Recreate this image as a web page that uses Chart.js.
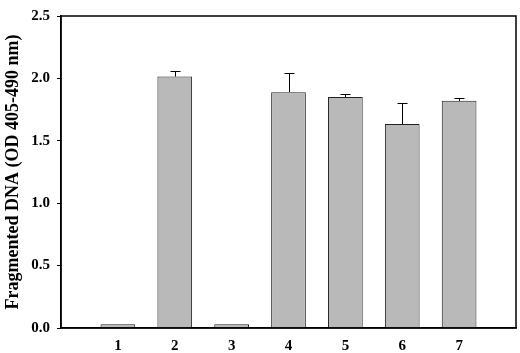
<!DOCTYPE html>
<html>
<head>
<meta charset="utf-8">
<script src="https://cdn.jsdelivr.net/npm/chart.js@4"></script>
<style>
    html, body { margin: 0; padding: 0; background: #fff; }
    #wrap { width: 520px; height: 353px; }
</style>
</head>
<body>
<div id="wrap"><canvas id="dnaChart" width="520" height="353"></canvas></div>
<script>
const positions = [1, 2, 3, 4, 5, 6, 7];
const tickLabels = ["1", "2", "3", "4", "5", "6", "7"];
const values = [0.03, 2.015, 0.03, 1.89, 1.85, 1.635, 1.82];
const errors = [0, 0.045, 0, 0.15, 0.025, 0.17, 0.025];
const yTicks = [0.0, 0.5, 1.0, 1.5, 2.0, 2.5];

const serif = "'Liberation Serif', 'Times New Roman', serif";

// frame round the plot + upward error bars
const extras = {
    id: 'extras',
    afterDatasetsDraw(chart) {
        const c = chart.ctx;
        const y = chart.scales.y;
        const meta = chart.getDatasetMeta(0);
        c.save();
        c.strokeStyle = '#000';
        c.lineWidth = 1;
        meta.data.forEach((bar, i) => {
            if (!errors[i]) return;
            const top = y.getPixelForValue(values[i] + errors[i]);
            const x = Math.round(bar.x) + 0.5;
            c.beginPath();
            c.moveTo(x, bar.y);
            c.lineTo(x, Math.round(top) + 0.5);
            c.moveTo(x - 5, Math.round(top) + 0.5);
            c.lineTo(x + 5, Math.round(top) + 0.5);
            c.stroke();
        });
        const a = chart.chartArea;
        c.lineWidth = 1.5;
        c.strokeRect(a.left, a.top, a.right - a.left, a.bottom - a.top);
        c.restore();
    }
};

new Chart(document.getElementById('dnaChart'), {
    type: 'bar',
    data: {
        datasets: [{
            data: positions.map((p, i) => ({ x: p, y: values[i] })),
            backgroundColor: '#b9b9b9',
            borderColor: '#222',
            borderWidth: 1,
            barPercentage: 0.61,
            categoryPercentage: 1
        }]
    },
    options: {
        responsive: false,
        animation: false,
        layout: { padding: { top: 6, right: 4, left: 0, bottom: 0 } },
        plugins: { legend: { display: false }, tooltip: { enabled: false } },
        scales: {
            x: {
                type: 'linear',
                min: 0,
                max: 8,
                offset: false,
                afterFit: s => { s.height = 25; },
                afterBuildTicks: s => { s.ticks = positions.map(v => ({ value: v })); },
                grid: { display: false, drawTicks: false },
                border: { color: '#000', width: 1.5 },
                ticks: {
                    padding: 9,
                    color: '#000',
                    font: { family: serif, size: 15, weight: 'bold' },
                    callback: (v) => tickLabels[positions.indexOf(v)] || ''
                }
            },
            y: {
                min: 0,
                max: 2.5,
                afterFit: s => { s.width = 61; },
                afterBuildTicks: s => { s.ticks = yTicks.map(v => ({ value: v })); },
                grid: { drawOnChartArea: false, drawTicks: true, tickLength: 4, color: '#000' },
                border: { color: '#000', width: 1.5 },
                title: {
                    display: true,
                    text: 'Fragmented DNA (OD 405-490 nm)',
                    color: '#000',
                    font: { family: serif, size: 18, weight: 'bold' },
                    padding: { top: 3, bottom: 0 }
                },
                ticks: {
                    padding: 7,
                    color: '#000',
                    font: { family: serif, size: 15, weight: 'bold' },
                    callback: v => v.toFixed(1)
                }
            }
        }
    },
    plugins: [extras]
});
</script>
</body>
</html>
